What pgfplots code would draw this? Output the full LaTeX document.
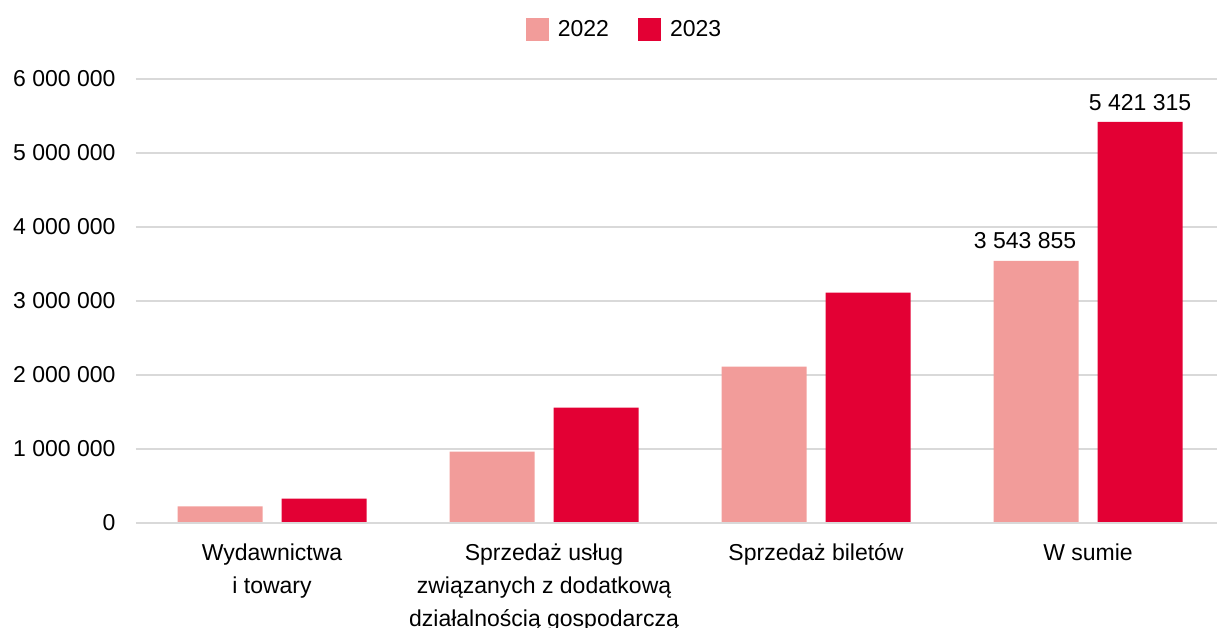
\documentclass[border=0pt]{standalone}
\usepackage{pgfplots}
\pgfplotsset{compat=1.18}
\usepackage{fontspec}
\setmainfont{Liberation Sans}
\definecolor{c22}{HTML}{F29C9A}
\definecolor{c23}{HTML}{E30034}
\definecolor{gridc}{HTML}{D9D9D9}

\begin{document}
\begin{tikzpicture}[x=1pt,y=1pt]
\path[use as bounding box] (-136,-105) rectangle (1081,523);
\begin{axis}[
  scale only axis, width=1081pt, height=444pt,
  at={(0,0)}, anchor=south west,
  font=\fontsize{23}{33}\selectfont,
  ybar=19pt, bar width=85pt,
  xmin=-0.5, xmax=3.474, ymin=0, ymax=6000000,
  axis line style={draw=none},
  ytick={0,1000000,...,6000000},
  ymajorgrids, grid style={gridc, line width=1.5pt},
  major tick length=0pt,
  scaled y ticks=false,
  /pgf/number format/fixed,
  /pgf/number format/1000 sep={\ },
  /pgf/number format/assume math mode=true,
  yticklabel style={xshift=-17pt},
  xtick={0,1,2,3},
  xticklabels={Wydawnictwa\\i towary, Sprzedaż usług\\związanych z dodatkową\\działalnością gospodarczą, Sprzedaż biletów, W sumie},
  xticklabel style={align=center, anchor=north, yshift=-17pt},
  legend columns=2,
  legend style={draw=none, at={(0.5,1)}, anchor=south, yshift=36pt, xshift=-52pt,
    /tikz/every even column/.append style={column sep=27pt}},
  legend image code/.code={\fill[#1] (0pt,-11.5pt) rectangle (23pt,11.5pt);
    \path (30pt,0pt);},
  point meta=explicit symbolic,
  nodes near coords,
  nodes near coords style={anchor=south, yshift=8pt},
]
\addplot[fill=c22, draw=none, nodes near coords style={xshift=-11pt}]
  coordinates {(0,226000)[] (1,963000)[] (2,2112000)[] (3,3543855)[3 543 855]};
\addplot[fill=c23, draw=none]
  coordinates {(0,328000)[] (1,1558000)[] (2,3112000)[] (3,5421315)[5 421 315]};
\draw[gridc, line width=1.5pt] (rel axis cs:0,0) -- (rel axis cs:1,0);
\legend{2022, 2023}
\end{axis}
\end{tikzpicture}
\end{document}
